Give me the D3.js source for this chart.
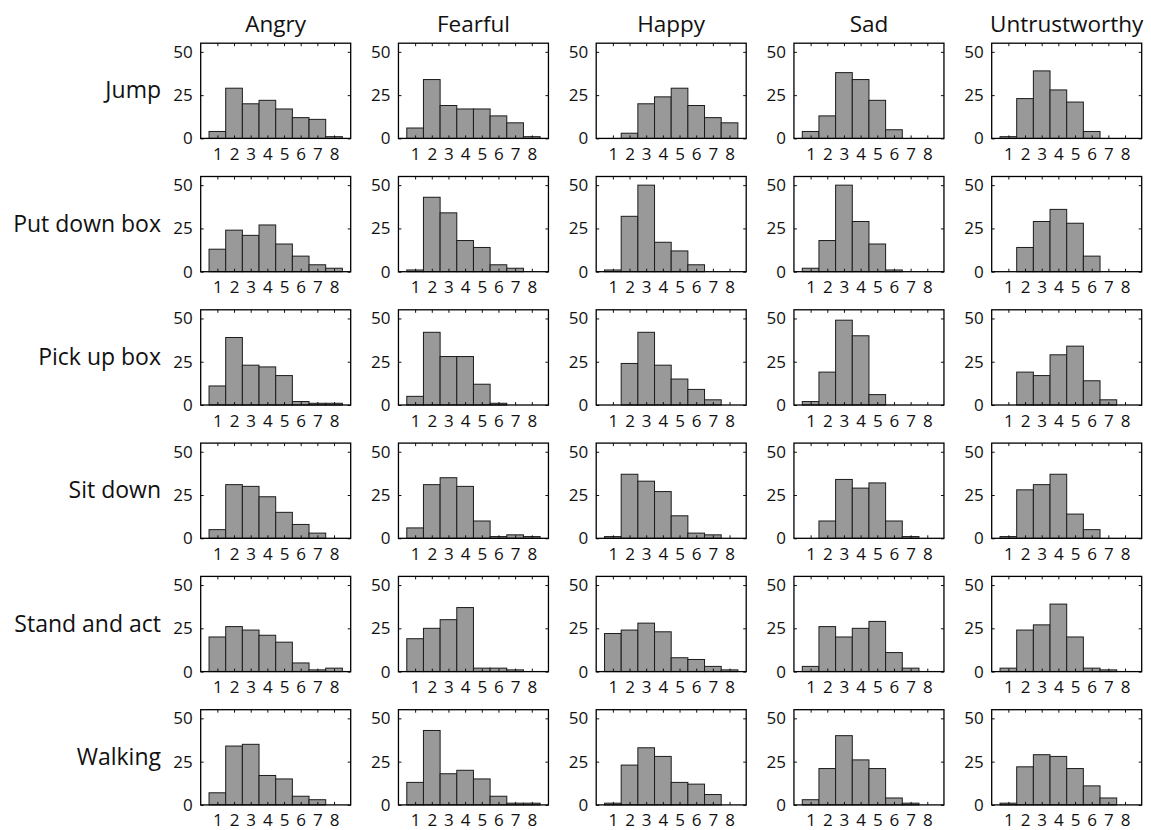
<!DOCTYPE html>
<html>
<head>
<meta charset="utf-8">
<script src="https://d3js.org/d3.v7.min.js"></script>
<style>
  html, body { margin: 0; padding: 0; background: #fff; }
  svg { display: block; }
  text { font-family: "Open Sans", "Noto Sans", sans-serif; fill: #111; }
</style>
</head>
<body>
<svg id="chart" width="1151" height="830"></svg>
<script>
// ---- data ----
const emotions = ["Angry", "Fearful", "Happy", "Sad", "Untrustworthy"];
const actions = ["Jump", "Put down box", "Pick up box", "Sit down", "Stand and act", "Walking"];
const bins = [1, 2, 3, 4, 5, 6, 7, 8];
const yTicks = [0, 25, 50];

// counts per bin (1..8), one row per action
const angry = [
  [4, 29, 20, 22, 17, 12, 11, 1],
  [13, 24, 21, 27, 16, 9, 4, 2],
  [11, 39, 23, 22, 17, 2, 1, 1],
  [5, 31, 30, 24, 15, 8, 3, 0],
  [20, 26, 24, 21, 17, 5, 1, 2],
  [7, 34, 35, 17, 15, 5, 3, 0]
];
const fearful = [
  [6, 34, 19, 17, 17, 13, 9, 1],
  [1, 43, 34, 18, 14, 4, 2, 0],
  [5, 42, 28, 28, 12, 1, 0, 0],
  [6, 31, 35, 30, 10, 1, 2, 1],
  [19, 25, 30, 37, 2, 2, 1, 0],
  [13, 43, 18, 20, 15, 5, 1, 1]
];
const happy = [
  [0, 3, 20, 24, 29, 19, 12, 9],
  [1, 32, 50, 17, 12, 4, 0, 0],
  [0, 24, 42, 23, 15, 9, 3, 0],
  [1, 37, 33, 27, 13, 3, 2, 0],
  [22, 24, 28, 23, 8, 7, 3, 1],
  [1, 23, 33, 28, 13, 12, 6, 0]
];
const sad = [
  [4, 13, 38, 34, 22, 5, 0, 0],
  [2, 18, 50, 29, 16, 1, 0, 0],
  [2, 19, 49, 40, 6, 0, 0, 0],
  [0, 10, 34, 29, 32, 10, 1, 0],
  [3, 26, 20, 25, 29, 11, 2, 0],
  [3, 21, 40, 26, 21, 4, 1, 0]
];
const untrustworthy = [
  [1, 23, 39, 28, 21, 4, 0, 0],
  [0, 14, 29, 36, 28, 9, 0, 0],
  [0, 19, 17, 29, 34, 14, 3, 0],
  [1, 28, 31, 37, 14, 5, 0, 0],
  [2, 24, 27, 39, 20, 2, 1, 0],
  [1, 22, 29, 28, 21, 11, 4, 0]
];
const series = [angry, fearful, happy, sad, untrustworthy];

// ---- layout ----
const svg = d3.select("#chart");
const panelW = 150, panelH = 95.2;
const col = d3.scaleLinear().domain([0, 4]).range([200.7, 200.7 + 4 * 197.75]);
const row = d3.scaleLinear().domain([0, 5]).range([43.2, 43.2 + 5 * 133.3]);
const x = d3.scaleLinear().domain([0, 9]).range([0, panelW]);
const y = d3.scaleLinear().domain([0, 55]).range([panelH, 0]);

// column titles
svg.selectAll("text.title").data(emotions).join("text")
  .attr("class", "title")
  .attr("x", (d, i) => col(i) + panelW / 2)
  .attr("y", 32)
  .attr("text-anchor", "middle")
  .style("font-size", "22.5px")
  .text(d => d);

// row labels
svg.selectAll("text.rowlab").data(actions).join("text")
  .attr("class", "rowlab")
  .attr("x", 161)
  .attr("y", (d, j) => row(j) + panelH / 2 + 7.5)
  .attr("text-anchor", "end")
  .style("font-size", "23px")
  .text(d => d);

series.forEach((em, i) => {
  em.forEach((vals, j) => {
    const g = svg.append("g").attr("transform", `translate(${col(i)},${row(j)})`);
    // bars
    g.selectAll("rect.bar").data(bins).join("rect")
      .attr("class", "bar")
      .attr("x", b => x(b - 0.5))
      .attr("width", b => x(b + 0.5) - x(b - 0.5))
      .attr("y", (b, k) => y(vals[k]))
      .attr("height", (b, k) => y(0) - y(vals[k]))
      .attr("fill", "#999999")
      .attr("stroke", "#1c1c1c")
      .attr("stroke-width", 1);

    // axes
    const left = g.append("g").call(d3.axisLeft(y).tickValues(yTicks).tickSize(-3).tickPadding(8).tickFormat(d3.format("d")));
    const right = g.append("g").attr("transform", `translate(${panelW},0)`)
      .call(d3.axisRight(y).tickValues(yTicks).tickSize(-3).tickFormat(""));
    const top = g.append("g").call(d3.axisTop(x).tickValues(bins).tickSize(-3).tickFormat(""));
    const bottom = g.append("g").attr("transform", `translate(0,${panelH})`)
      .call(d3.axisBottom(x).tickValues(bins).tickSize(-3).tickPadding(9.5).tickFormat(d3.format("d")));
    [left, right, top, bottom].forEach(a => {
      a.select(".domain").remove();
      a.selectAll(".tick line").attr("stroke", "#111").attr("stroke-width", 1);
      a.selectAll(".tick text").style("font-size", "17px").style("font-family", "'Open Sans', sans-serif").attr("fill", "#111");
    });
    // box
    g.append("rect")
      .attr("x", 0).attr("y", 0)
      .attr("width", panelW).attr("height", panelH)
      .attr("fill", "none")
      .attr("stroke", "#000")
      .attr("stroke-width", 1.3);
  });
});
</script>
</body>
</html>
